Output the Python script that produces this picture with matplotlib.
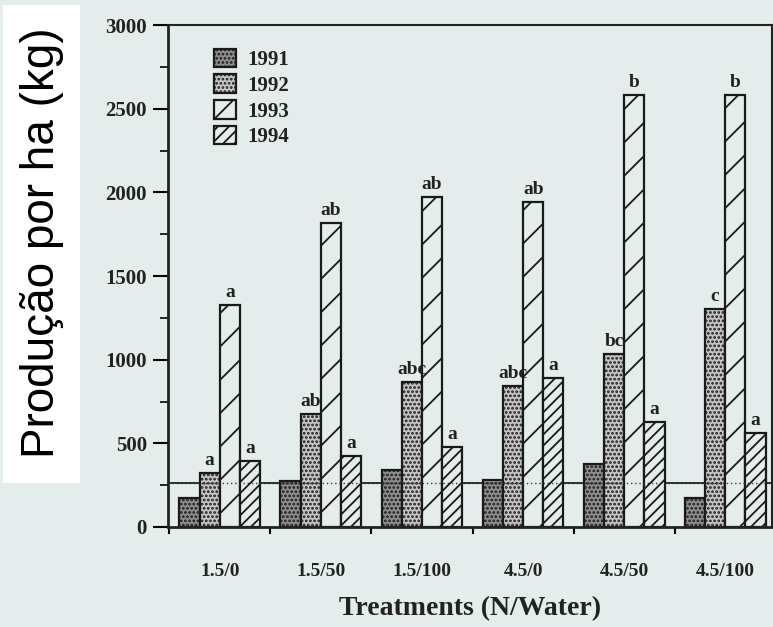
import numpy as np
import matplotlib
matplotlib.use("Agg")
import matplotlib.pyplot as plt
from matplotlib.patches import Rectangle, Patch

# data
treatments = ["1.5/0", "1.5/50", "1.5/100", "4.5/0", "4.5/50", "4.5/100"]
years = ["1991", "1992", "1993", "1994"]
y1991 = [173, 275, 341, 281, 377, 173]
y1992 = [323, 675, 867, 843, 1034, 1303]
y1993 = [1327, 1817, 1972, 1943, 2582, 2582]
y1994 = [394, 424, 478, 891, 628, 562]
lab1992 = ["a", "ab", "abc", "abc", "bc", "c"]
lab1993 = ["a", "ab", "ab", "ab", "b", "b"]
lab1994 = ["a", "a", "a", "a", "a", "a"]
ref_level = 263

paper = "#e4ecec"
ink = "#222222"
plt.rcParams["hatch.linewidth"] = 1.3
serif = "Liberation Serif"

fig = plt.figure(figsize=(7.73, 6.27), dpi=100, facecolor=paper)
ax = fig.add_axes([0.217, 0.1595, 0.782, 0.8005])
ax.set_facecolor(paper)

x = np.arange(len(treatments))
w = 0.2
styles = [
    dict(facecolor="#8e8e8e", hatch="...."),
    dict(facecolor="#c4c4c4", hatch="...."),
    dict(facecolor=paper, hatch="/"),
    dict(facecolor=paper, hatch="///"),
]
series = [y1991, y1992, y1993, y1994]
labels = [None, lab1992, lab1993, lab1994]

ax.axhline(ref_level, color=ink, lw=1.3, zorder=1)
handles = []
for k, (vals, st) in enumerate(zip(series, styles)):
    pos = x + (k - 1.5) * w
    ax.bar(pos, vals, w, edgecolor="#1a1a1a", linewidth=1.6, zorder=2, **st)
    handles.append(Patch(edgecolor="#1a1a1a", linewidth=1.6, label=years[k], **st))
    if labels[k]:
        for px, v, t in zip(pos, vals, labels[k]):
            ax.annotate(t, (px, v), xytext=(0, 3), textcoords="offset points",
                        ha="center", va="bottom", fontsize=14, fontweight="bold",
                        family=serif, color=ink)
ax.axhline(ref_level, color="#333333", lw=1.0, ls=(0, (1, 2)), zorder=3)

ax.set_xlim(-0.515, 5.465)
ax.set_ylim(0, 3000)
ax.set_yticks(np.arange(0, 3001, 500))
ax.set_yticks(np.arange(250, 3000, 500), minor=True)
ax.set_xticks(x)
ax.set_xticklabels(treatments)
ax.set_xticks(x - 0.5, minor=True)
ax.tick_params(axis="x", which="major", length=0, pad=26)
ax.tick_params(axis="x", which="minor", length=5, width=1.5, direction="out")
ax.tick_params(axis="y", which="major", length=11, width=1.5, direction="out", pad=4)
ax.tick_params(axis="y", which="minor", length=6, width=1.2, direction="out")
for lbl in ax.get_xticklabels():
    lbl.set_fontsize(14)
for lbl in ax.get_yticklabels():
    lbl.set_fontsize(15)
for lbl in ax.get_xticklabels() + ax.get_yticklabels():
    lbl.set_fontfamily(serif)
    lbl.set_fontweight("bold")
    lbl.set_color(ink)
for s in ax.spines.values():
    s.set_color(ink)
ax.spines["left"].set_linewidth(2.0)
ax.spines["bottom"].set_linewidth(2.0)
ax.spines["top"].set_linewidth(1.5)
ax.spines["right"].set_linewidth(1.5)

fig.text(470 / 773, 1 - 609 / 627, "Treatments (N/Water)", fontsize=20,
         fontweight="bold", family=serif, color=ink, ha="center", va="center")

leg = ax.legend(handles=handles, loc="upper left", bbox_to_anchor=(0.045, 0.99),
                frameon=False, handlelength=1.05, handleheight=1.0,
                labelspacing=0.2, handletextpad=0.55,
                prop=dict(family=serif, weight="bold", size=15))
for t in leg.get_texts():
    t.set_color(ink)

# white box with the portuguese axis title
fig.patches.append(Rectangle((3 / 773, 1 - 483 / 627), 77 / 773, 478 / 627,
                             transform=fig.transFigure, facecolor="white",
                             edgecolor="none", zorder=0))
fig.text(42 / 773, 1 - 243 / 627, "Produção por ha (kg)", rotation=90,
         ha="center", va="center", fontsize=33, family="Liberation Sans",
         color="black")

fig.savefig("out.png", dpi=100, facecolor=paper)
